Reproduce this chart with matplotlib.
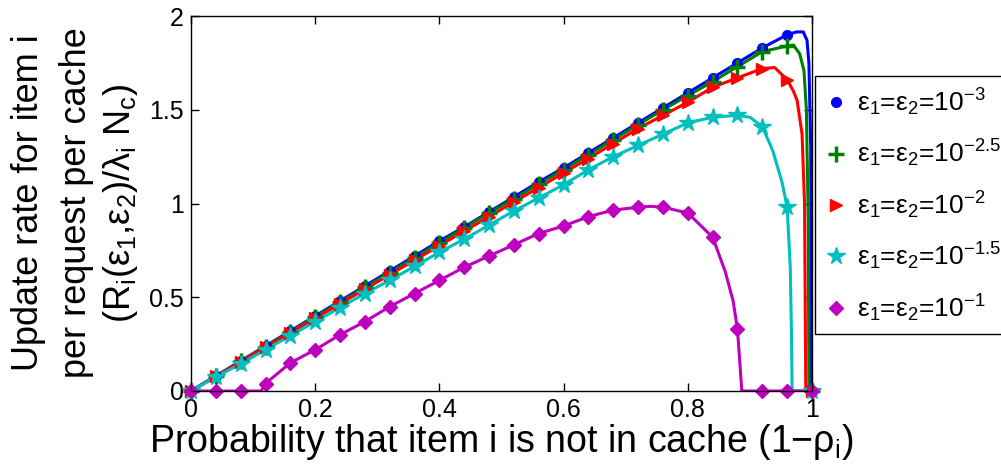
import numpy as np
import matplotlib
matplotlib.use("Agg")
import matplotlib.pyplot as plt

plt.rcParams['font.family'] = ['Liberation Sans', 'DejaVu Sans']
plt.rcParams['mathtext.fontset'] = 'custom'
plt.rcParams['mathtext.rm'] = 'Liberation Sans'
plt.rcParams['mathtext.it'] = 'Liberation Sans:italic'

""" Data (read off the figure) """
x_mk = np.linspace(0, 1, 26)   # markers every 0.04

y_e3 = [0, 0.08, 0.16, 0.24, 0.32, 0.40, 0.48, 0.56, 0.64, 0.72, 0.80, 0.875,
        0.955, 1.035, 1.115, 1.19, 1.27, 1.35, 1.43, 1.51, 1.59, 1.67, 1.75,
        1.83, 1.90, 0]
y_e25 = [0, 0.079, 0.158, 0.237, 0.316, 0.395, 0.474, 0.553, 0.632, 0.711,
         0.79, 0.87, 0.95, 1.025, 1.105, 1.18, 1.26, 1.34, 1.42, 1.50, 1.575,
         1.65, 1.73, 1.81, 1.84, 0]
y_e2 = [0, 0.078, 0.155, 0.233, 0.31, 0.388, 0.465, 0.543, 0.62, 0.698, 0.775,
        0.853, 0.93, 1.008, 1.085, 1.163, 1.24, 1.32, 1.40, 1.47, 1.54, 1.62,
        1.67, 1.72, 1.66, 0]
y_e15 = [0, 0.075, 0.145, 0.22, 0.295, 0.37, 0.445, 0.52, 0.59, 0.665, 0.74,
         0.81, 0.885, 0.96, 1.03, 1.10, 1.18, 1.25, 1.31, 1.37, 1.43, 1.46,
         1.47, 1.41, 0.98, 0]
y_e1 = [0, 0, 0, 0.04, 0.15, 0.22, 0.30, 0.37, 0.45, 0.52, 0.59, 0.66, 0.72,
        0.78, 0.84, 0.88, 0.93, 0.965, 0.98, 0.98, 0.95, 0.82, 0.33, 0, 0, 0]

# extra points of the solid curves (between markers, where they bend/drop)
ex_e3 = ([0.975, 0.986, 0.992, 0.995, 0.998, 0.999], [1.915, 1.915, 1.87, 1.75, 1.3, 0.0])
ex_e25 = ([0.97, 0.98, 0.987, 0.991, 0.994, 0.995], [1.845, 1.80, 1.71, 1.5, 0.9, 0.0])
ex_e2 = ([0.94, 0.97, 0.976, 0.984, 0.988, 0.990], [1.725, 1.60, 1.55, 1.37, 1.0, 0.0])
ex_e15 = ([0.90, 0.937, 0.952, 0.965, 0.967, 0.968], [1.46, 1.28, 1.11, 0.66, 0.30, 0.0])
ex_e1 = ([0.113, 0.74, 0.86, 0.873, 0.887], [0.0, 0.985, 0.64, 0.48, 0.0])

exps = ['-3', '-2.5', '-2', '-1.5', '-1']
labels = ['ε$_1$=ε$_2$=10$^{%s}$' % e for e in exps]
colors = ['#0000ff', '#008000', '#ff0000', '#00bfbf', '#bf00bf']
markers = ['o', '+', '>', '*', 'D']
msizes = [7, 11, 8, 13, 7]

series = [y_e3, y_e25, y_e2, y_e15, y_e1]
extras = [ex_e3, ex_e25, ex_e2, ex_e15, ex_e1]

""" Plotting """
fig = plt.figure(figsize=(10.01, 4.71), dpi=100)
ax = fig.add_axes([191/1001, 1-391/471, 621/1001, 375/471])

for y, ex, c in zip(series, extras, colors):
    lx = np.concatenate([x_mk, ex[0]])
    ly = np.concatenate([y, ex[1]])
    order = np.argsort(lx, kind='stable')
    ax.plot(lx[order], ly[order], '-', color=c, lw=2.2)

for y, c, m, ms, lab in zip(series, colors, markers, msizes, labels):
    ax.plot(x_mk, y, ls='none', marker=m, ms=ms, color=c, mfc=c, mec=c,
            mew=2.5 if m == '+' else 1, label=lab, clip_on=False)

ax.set_xlim(0, 1)
ax.set_ylim(0, 2)
ax.set_xticks([0, 0.2, 0.4, 0.6, 0.8, 1])
ax.set_xticklabels(['0', '0.2', '0.4', '0.6', '0.8', '1'])
ax.set_yticks([0, 0.5, 1, 1.5, 2])
ax.set_yticklabels(['0', '0.5', '1', '1.5', '2'])
ax.tick_params(direction='in', length=6, width=1, top=True, right=True,
               labelsize=18, pad=5)
for s in ax.spines.values():
    s.set_linewidth(1.0)

ax.set_xlabel(r'Probability that item i is not in cache (1$-$ρ$_\mathregular{i}$)',
              fontsize=27, labelpad=0)

ylines = ['Update rate for item i',
          'per request per cache',
          r'(R$_\mathregular{i}$(ε$_1$,ε$_2$)/λ$_\mathregular{i}$ N$_\mathregular{c}$)']
for xp, t in zip([29, 77, 120], ylines):
    fig.text(xp/1001, 1-203/471, t, rotation=90, ha='center', va='center',
             fontsize=26)

leg = fig.legend(loc='upper left', bbox_to_anchor=(815/1001, 1-76/471),
                 borderaxespad=0, fontsize=19, frameon=True, fancybox=False,
                 framealpha=1, edgecolor='black', handlelength=0.8,
                 handletextpad=0.4, labelspacing=0.76, borderpad=0.4,
                 numpoints=1)
leg.get_frame().set_linewidth(1.0)

fig.savefig('out.png', dpi=100)
